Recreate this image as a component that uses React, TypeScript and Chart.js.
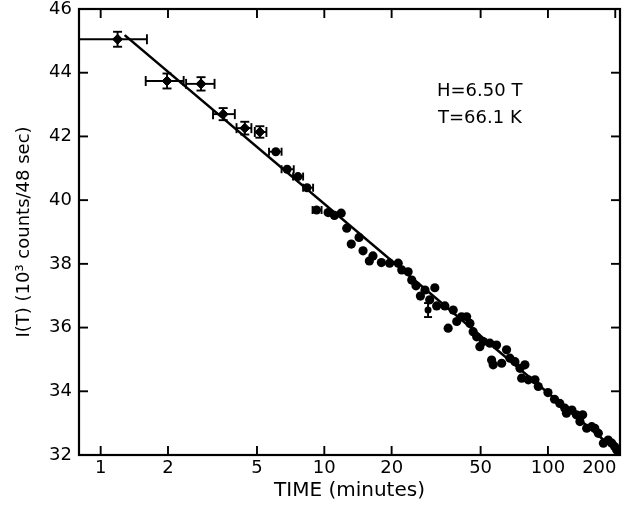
import React, { useEffect, useRef } from "react";
import { Chart, registerables } from "chart.js";

Chart.register(...registerables);

// ---- axis ticks ----
const xTickValues = [1, 2, 5, 10, 20, 50, 100, 200];
const xMin = 0.8;
const xMax = 210;
const yMin = 32;
const yMax = 46;
const yStep = 2;

// ---- early points: diamonds with x and y error bars ----
const diamondX = [1.19, 1.98, 2.81, 3.53, 4.41, 5.15];
const diamondY = [45.05, 43.74, 43.65, 42.7, 42.26, 42.14];
const diamondXLow = [0.8, 1.59, 2.41, 3.18, 4.05, 4.89];
const diamondXHigh = [1.61, 2.35, 3.23, 3.98, 4.72, 5.51];
const diamondYErr = [0.235, 0.235, 0.21, 0.19, 0.2, 0.18];

// ---- dots with horizontal (time) error bars ----
const barDotX = [6.07, 6.82, 7.62, 8.37, 9.23];
const barDotY = [41.52, 40.97, 40.74, 40.39, 39.69];
const barDotXLow = [5.66, 6.44, 7.25, 8.04, 8.86];
const barDotXHigh = [6.44, 7.3, 8.04, 8.91, 9.72];

// ---- single point with vertical error bar ----
const vBarX = [29.1];
const vBarY = [36.55];
const vBarErr = [0.22];

// ---- plain dots ----
const dotX = [
  10.4, 11.1, 11.9, 12.6, 13.2, 14.3, 14.9, 15.9, 16.5, 18.0,
  19.6, 21.4, 22.2, 23.7, 24.6, 25.7, 26.9, 28.2, 29.6, 31.2,
  31.8, 34.6, 35.8, 37.7, 39.1, 41.1, 43.3, 44.8, 46.3, 48.0,
  49.6, 51.4, 55.0, 56.0, 56.9, 58.9, 62.1, 65.3, 67.6, 71.2,
  75.0, 76.3, 78.9, 81.7, 87.5, 90.5, 100, 107, 113, 119,
  121, 128, 134, 139, 143, 149, 157, 162, 168, 177,
  186, 193, 199, 203,
];
const dotY = [
  39.61, 39.52, 39.59, 39.12, 38.62, 38.83, 38.41, 38.09, 38.25, 38.04,
  38.02, 38.02, 37.81, 37.75, 37.49, 37.31, 36.99, 37.18, 36.87, 37.25,
  36.68, 36.68, 35.98, 36.55, 36.19, 36.34, 36.34, 36.13, 35.87, 35.71,
  35.4, 35.56, 35.51, 34.98, 34.83, 35.45, 34.88, 35.3, 35.04, 34.93,
  34.72, 34.41, 34.83, 34.36, 34.36, 34.15, 33.96, 33.75, 33.62, 33.47,
  33.31, 33.41, 33.26, 33.05, 33.26, 32.84, 32.89, 32.84, 32.68, 32.37,
  32.47, 32.37, 32.26, 32.16,
];

// ---- fitted line ----
const fitX = [1.28, 205];
const fitY = [45.18, 32.1];

const noteLines = ["H=6.50 T", "T=66.1 K"];

const FONT = "'DejaVu Sans', sans-serif";

const toPts = (xs: number[], ys: number[]) => xs.map((x, i) => ({ x, y: ys[i] }));

const errorBarPlugin = {
  id: "errorBars",
  afterDatasetsDraw(chart: any) {
    const { ctx, scales } = chart;
    const xs = scales.x;
    const ys = scales.y;
    const a = chart.chartArea;
    ctx.save();
    ctx.beginPath();
    ctx.rect(a.left, a.top, a.right - a.left, a.bottom - a.top);
    ctx.clip();
    ctx.strokeStyle = "#000";
    ctx.lineWidth = 1.9;
    const line = (x1: number, y1: number, x2: number, y2: number) => {
      ctx.beginPath();
      ctx.moveTo(x1, y1);
      ctx.lineTo(x2, y2);
      ctx.stroke();
    };
    const hBar = (lo: number, hi: number, y: number, cap: number) => {
      const pl = xs.getPixelForValue(lo);
      const ph = xs.getPixelForValue(hi);
      const py = ys.getPixelForValue(y);
      line(pl, py, ph, py);
      line(pl, py - cap, pl, py + cap);
      line(ph, py - cap, ph, py + cap);
    };
    const vBar = (x: number, y: number, e: number, cap: number) => {
      const px = xs.getPixelForValue(x);
      const pt = ys.getPixelForValue(y + e);
      const pb = ys.getPixelForValue(y - e);
      line(px, pt, px, pb);
      line(px - cap, pt, px + cap, pt);
      line(px - cap, pb, px + cap, pb);
    };
    diamondX.forEach((x, i) => {
      hBar(diamondXLow[i], diamondXHigh[i], diamondY[i], 5);
      vBar(x, diamondY[i], diamondYErr[i], 4.5);
    });
    barDotX.forEach((x, i) => {
      hBar(barDotXLow[i], barDotXHigh[i], barDotY[i], 4);
    });
    vBarX.forEach((x, i) => vBar(x, vBarY[i], vBarErr[i], 4));
    ctx.restore();
  },
};

const framePlugin = {
  id: "frameTicks",
  afterDraw(chart: any) {
    const { ctx, scales } = chart;
    const a = chart.chartArea;
    ctx.save();
    ctx.strokeStyle = "#000";
    ctx.lineWidth = 2.2;
    ctx.strokeRect(a.left, a.top, a.right - a.left, a.bottom - a.top);
    ctx.lineWidth = 1.9;
    const L = 9;
    const line = (x1: number, y1: number, x2: number, y2: number) => {
      ctx.beginPath();
      ctx.moveTo(x1, y1);
      ctx.lineTo(x2, y2);
      ctx.stroke();
    };
    scales.x.ticks.forEach((t: any) => {
      const px = scales.x.getPixelForValue(t.value);
      if (px <= a.left + 1 || px >= a.right - 1) return;
      line(px, a.bottom, px, a.bottom - L);
      line(px, a.top, px, a.top + L);
    });
    scales.y.ticks.forEach((t: any) => {
      const py = scales.y.getPixelForValue(t.value);
      if (py <= a.top + 1 || py >= a.bottom - 1) return;
      line(a.left, py, a.left + L, py);
      line(a.right, py, a.right - L, py);
    });
    // annotation
    ctx.fillStyle = "#000";
    ctx.font = `18px ${FONT}`;
    ctx.textAlign = "left";
    ctx.textBaseline = "alphabetic";
    ctx.fillText(noteLines[0], 437, 96);
    ctx.fillText(noteLines[1], 438, 123);
    ctx.restore();
  },
};

export default function App() {
  const ref = useRef<HTMLCanvasElement | null>(null);

  useEffect(() => {
    if (!ref.current) return;
    const chart = new Chart(ref.current, {
      type: "scatter",
      data: {
        datasets: [
          {
            type: "line",
            data: toPts(fitX, fitY),
            borderColor: "#000",
            borderWidth: 2.6,
            pointRadius: 0,
            fill: false,
          } as any,
          {
            data: toPts(diamondX, diamondY),
            pointStyle: "rectRot",
            pointRadius: 5,
            backgroundColor: "#000",
            borderColor: "#000",
            borderWidth: 1,
          },
          {
            data: toPts(barDotX, barDotY),
            pointRadius: 4.5,
            backgroundColor: "#000",
            borderColor: "#000",
            borderWidth: 0,
          },
          {
            data: toPts(vBarX, vBarY),
            pointRadius: 3.5,
            backgroundColor: "#000",
            borderColor: "#000",
            borderWidth: 0,
          },
          {
            data: toPts(dotX, dotY),
            pointRadius: 4.6,
            backgroundColor: "#000",
            borderColor: "#000",
            borderWidth: 0,
          },
        ],
      },
      options: {
        animation: false,
        responsive: false,
        maintainAspectRatio: false,
        events: [],
        layout: { padding: { left: 0, right: 12, top: 9, bottom: 0 } },
        plugins: {
          legend: { display: false },
          tooltip: { enabled: false },
        },
        scales: {
          x: {
            type: "logarithmic",
            position: "bottom",
            min: xMin,
            max: xMax,
            afterBuildTicks: (s: any) => {
              s.ticks = xTickValues.map((v) => ({ value: v }));
            },
            afterFit: (s: any) => {
              s.height = 53;
              s.paddingLeft = 0;
              s.paddingRight = 0;
            },
            grid: { display: false, drawTicks: false },
            border: { display: false },
            ticks: {
              autoSkip: false,
              maxRotation: 0,
              padding: 3,
              color: "#000",
              font: { family: FONT, size: 18 },
              callback: (v: any) =>
                v === xTickValues[xTickValues.length - 1]
                  ? String(v) + "\u2007\u2007\u2002"
                  : String(v),
            },
            title: {
              display: true,
              text: "TIME (minutes)",
              color: "#000",
              font: { family: FONT, size: 20 },
              padding: { top: 0, bottom: 5 },
            },
          },
          y: {
            type: "linear",
            min: yMin,
            max: yMax,
            afterFit: (s: any) => {
              s.width = 79;
              s.paddingTop = 0;
              s.paddingBottom = 0;
            },
            grid: { display: false, drawTicks: false },
            border: { display: false },
            ticks: {
              stepSize: yStep,
              padding: 7,
              color: "#000",
              font: { family: FONT, size: 18 },
            },
            title: {
              display: true,
              text: "I(T) (10³ counts/48 sec)",
              color: "#000",
              font: { family: FONT, size: 18 },
              padding: { top: 14, bottom: 0 },
            },
          },
        },
      },
      plugins: [errorBarPlugin, framePlugin],
    });
    return () => chart.destroy();
  }, []);

  return (
    <div style={{ position: "absolute", left: 0, top: 0, width: 632, height: 508, background: "#fff" }}>
      <canvas ref={ref} width={632} height={508} />
    </div>
  );
}
